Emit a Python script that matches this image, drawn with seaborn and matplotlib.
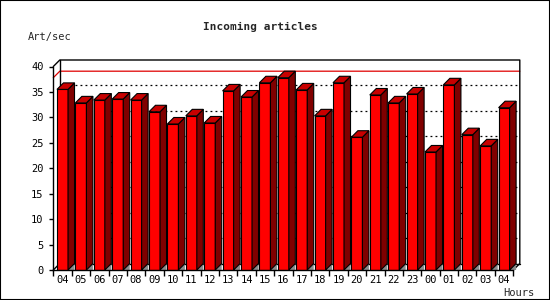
import matplotlib
matplotlib.use("Agg")
import matplotlib.pyplot as plt
from matplotlib.patches import Polygon, Rectangle
import seaborn as sns
import pandas as pd

# ---- data ----
hours = ["04", "05", "06", "07", "08", "09", "10", "11", "12", "13", "14", "15",
         "16", "17", "18", "19", "20", "21", "22", "23", "00", "01", "02", "03", "04"]
rates = [35.5, 32.85, 33.4, 33.6, 33.4, 31.1, 28.7, 30.3, 28.9, 35.2, 34.0, 36.8,
         37.8, 35.4, 30.3, 36.8, 26.1, 34.4, 32.85, 34.6, 23.2, 36.4, 26.6, 24.4, 31.9]
y_ticks = [0, 5, 10, 15, 20, 25, 30, 35, 40]
title = "Incoming articles"
y_label = "Art/sec"
x_label = "Hours"

sns.set_style("white")
plt.rcParams["font.family"] = ["DejaVu Sans Mono"]

W, H = 550, 300
fig = plt.figure(figsize=(W / 100, H / 100), dpi=100)
fig.patch.set_facecolor("white")
ax = fig.add_axes([53.3 / W, 30 / H, (513.3 - 53.3) / W, (270 - 66.5) / H])
ax.set_facecolor("none")

df = pd.DataFrame({"slot": list(range(len(rates))), "rate": rates})
sns.barplot(data=df, x="slot", y="rate", color="#ff0000", saturation=1,
            width=0.6, edgecolor="black", linewidth=0.8, ax=ax, zorder=2)

n = len(rates)
ax.set_xlim(-0.5, n - 0.5)
ax.set_ylim(y_ticks[0], y_ticks[-1])

# depth offset in data units (derived from pixels)
px0, py0 = ax.transData.transform((0, 0))
ddx, ddy = ax.transData.inverted().transform((px0 + 6.5, py0 + 6.5))
dx, dy = ddx - 0, ddy - 0

xl, xr = -0.5, n - 0.5
ytop = y_ticks[-1]
# back wall grid (dotted)
for v in y_ticks[1:-1]:
    ax.plot([xl + dx, xr + dx], [v + dy, v + dy], color="black", lw=0.9,
            ls=(0, (1.5, 2.5)), clip_on=False, zorder=0.5)
# max line (red)
vmax = max(rates)
ax.plot([xl, xl + dx, xr + dx], [vmax, vmax + dy, vmax + dy], color="#e00000",
        lw=0.9, clip_on=False, zorder=0.6)
# 3D frame
frame_kw = dict(color="black", lw=1.0, clip_on=False, zorder=0.7)
ax.plot([xl, xl + dx, xr + dx, xr + dx, xr], [ytop, ytop + dy, ytop + dy, dy, 0], **frame_kw)
ax.plot([xl + dx, xl + dx, xr + dx], [ytop + dy, dy, dy], **frame_kw)
ax.plot([xl, xl + dx], [0, dy], **frame_kw)

# side, top faces and floor shadows for each bar
for p in ax.patches[:n]:
    x0 = p.get_x()
    w = p.get_width()
    h = p.get_height()
    x1 = x0 + w
    side = Polygon([(x1, 0), (x1 + dx, dy), (x1 + dx, h + dy), (x1, h)], closed=True,
                   facecolor="#800000", edgecolor="black", lw=0.8, zorder=2)
    top = Polygon([(x0, h), (x0 + dx, h + dy), (x1 + dx, h + dy), (x1, h)], closed=True,
                  facecolor="#c80000", edgecolor="black", lw=0.8, zorder=2)
    shadow = Polygon([(x1, 0), (x1 + dx, dy), (x1 + dx, 0)], closed=True,
                     facecolor="#8c8c8c", edgecolor="none", zorder=1.5)
    for poly in (shadow, side, top):
        poly.set_clip_on(False)
        ax.add_patch(poly)

# axes styling
for s in ("top", "right"):
    ax.spines[s].set_visible(False)
for s in ("left", "bottom"):
    ax.spines[s].set_color("black")
    ax.spines[s].set_linewidth(1.0)
    ax.spines[s].set_zorder(3)

ax.set_yticks(y_ticks)
ax.set_yticklabels([str(v) for v in y_ticks])
ax.set_xticks(list(range(n)))
ax.set_xticklabels(hours)
ax.set_xticks([i - 0.5 for i in range(n + 1)], minor=True)
ax.tick_params(axis="x", which="major", length=0, pad=3.5, labelsize=7.5, colors="black")
ax.tick_params(axis="x", which="minor", length=4, width=1, direction="out", color="black", bottom=True)
ax.tick_params(axis="y", which="major", length=3, width=1, direction="out", pad=4,
               labelsize=7.5, colors="black", left=True)
ax.set_xlabel("")
ax.set_ylabel("")
ax.grid(False)

fig.text(260 / W, 1 - 26.5 / H, title, ha="center", va="center",
         fontsize=8, fontweight="bold")
fig.text(28 / W, 1 - 37 / H, y_label, ha="left", va="center", fontsize=7.5)
fig.text(534 / W, 1 - 292.5 / H, x_label, ha="right", va="center", fontsize=7.5)

fig.patches.append(Rectangle((0, 0), 1, 1, transform=fig.transFigure, fill=False,
                             edgecolor="black", lw=1.5, zorder=10))

fig.savefig("out.png", dpi=100, facecolor="white")
